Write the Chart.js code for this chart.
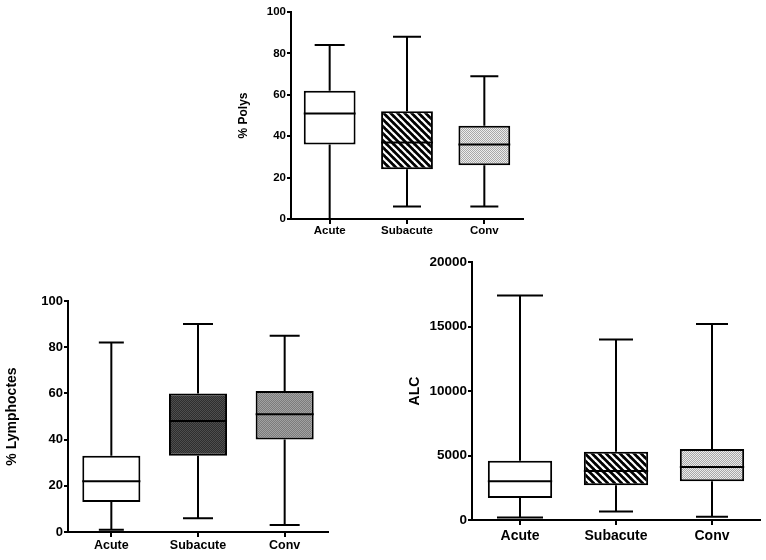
<!DOCTYPE html>
<html>
<head>
<meta charset="utf-8">
<script src="https://cdn.jsdelivr.net/npm/chart.js@4.4.1/dist/chart.umd.min.js"></script>
<style>
  html, body { margin: 0; padding: 0; background: #fff; }
  body { width: 766px; height: 560px; position: relative; overflow: hidden; }
  canvas { position: absolute; }
</style>
</head>
<body>
<canvas id="c1" width="300" height="250" style="left:232px;top:0px;width:300px;height:250px"></canvas>
<canvas id="c2" width="340" height="275" style="left:0px;top:285px;width:340px;height:275px"></canvas>
<canvas id="c3" width="381" height="310" style="left:385px;top:250px;width:381px;height:310px"></canvas>
<script>
// ---------- DATA ----------
const categories = ['Acute', 'Subacute', 'Conv'];

const polysMin = [0, 6, 6];
const polysQ1  = [36, 24, 26];
const polysMed = [51, 37, 36];
const polysQ3  = [62, 52, 45];
const polysMax = [84, 88, 69];
const polysTicks = [0, 20, 40, 60, 80, 100];

const lymphMin = [1, 6, 3];
const lymphQ1  = [13, 33, 40];
const lymphMed = [22, 48, 51];
const lymphQ3  = [33, 60, 61];
const lymphMax = [82, 90, 85];
const lymphTicks = [0, 20, 40, 60, 80, 100];

const alcMin = [200, 650, 250];
const alcQ1  = [1700, 2700, 3000];
const alcMed = [3000, 3800, 4100];
const alcQ3  = [4600, 5300, 5500];
const alcMax = [17400, 14000, 15200];
const alcTicks = [0, 5000, 10000, 15000, 20000];

// ---------- PATTERNS ----------
function tile(w, h, draw) {
  const c = document.createElement('canvas');
  c.width = w; c.height = h;
  const x = c.getContext('2d');
  draw(x);
  return x.createPattern(c, 'repeat');
}
function stripes() {
  return tile(7, 7, x => {
    x.fillStyle = '#000'; x.fillRect(0, 0, 7, 7);
    x.strokeStyle = '#fff'; x.lineWidth = 2.2;
    [-7, 0, 7].forEach(o => { x.beginPath(); x.moveTo(o - 1, -1); x.lineTo(o + 8, 8); x.stroke(); });
  });
}
function stipple(a, b) {
  return tile(2, 2, x => {
    x.fillStyle = b; x.fillRect(0, 0, 2, 2);
    x.fillStyle = a; x.fillRect(0, 0, 1, 1); x.fillRect(1, 1, 1, 1);
  });
}
const white = '#ffffff';

// ---------- BOX PLOT PLUGIN ----------
const whiskerPlugin = {
  id: 'whiskers',
  afterDatasetsDraw(chart, args, opts) {
    const ctx = chart.ctx;
    const xs = chart.scales.x, ys = chart.scales.y;
    ctx.save();
    ctx.strokeStyle = '#000';
    ctx.lineWidth = 2;
    ctx.lineCap = 'butt';
    const meta = chart.getDatasetMeta(0);
    opts.min.forEach((mn, i) => {
      const cx = xs.getPixelForValue(i);
      const bar = meta.data[i];
      const half = bar.width / 2;
      const cap = opts.caps[i] / 2;
      const pMin = ys.getPixelForValue(mn), pMax = ys.getPixelForValue(opts.max[i]);
      const pQ1 = ys.getPixelForValue(opts.q1[i]), pQ3 = ys.getPixelForValue(opts.q3[i]);
      const pMed = ys.getPixelForValue(opts.med[i]);
      ctx.beginPath();
      ctx.moveTo(cx, pQ3); ctx.lineTo(cx, pMax);
      ctx.moveTo(cx - cap, pMax); ctx.lineTo(cx + cap, pMax);
      ctx.moveTo(cx, pQ1); ctx.lineTo(cx, pMin);
      ctx.moveTo(cx - cap, pMin); ctx.lineTo(cx + cap, pMin);
      ctx.moveTo(cx - half, pMed); ctx.lineTo(cx + half, pMed);
      ctx.stroke();
    });
    ctx.restore();
  }
};

const FONT = "'Liberation Sans', Arial, Helvetica, sans-serif";

function makeChart(id, cfg) {
  const ctx = document.getElementById(id).getContext('2d');
  return new Chart(ctx, {
    type: 'bar',
    data: {
      labels: categories,
      datasets: [{
        data: cfg.q1.map((v, i) => [v, cfg.q3[i]]),
        backgroundColor: cfg.fills,
        borderColor: '#000',
        borderWidth: 2,
        borderSkipped: false,
        barPercentage: 0.67,
        categoryPercentage: 1
      }]
    },
    options: {
      responsive: false,
      animation: false,
      devicePixelRatio: 1,
      layout: { padding: cfg.padding },
      plugins: {
        legend: { display: false },
        tooltip: { enabled: false },
        whiskers: { min: cfg.min, q1: cfg.q1, med: cfg.med, q3: cfg.q3, max: cfg.max, caps: cfg.caps }
      },
      scales: {
        x: {
          offset: true,
          grid: { display: true, drawOnChartArea: false, drawTicks: true, tickLength: 5, color: '#000', lineWidth: 2, offset: false },
          border: { display: true, color: '#000', width: 2 },
          ticks: { color: '#000', font: { family: FONT, weight: 'bold', size: cfg.xFont }, padding: cfg.xPad, maxRotation: 0 },
          afterFit(s) { s.height = cfg.xHeight; }
        },
        y: {
          min: cfg.ticks[0],
          max: cfg.ticks[cfg.ticks.length - 1],
          afterBuildTicks(s) { s.ticks = cfg.ticks.map(v => ({ value: v })); },
          grid: { display: true, drawOnChartArea: false, drawTicks: true, tickLength: 4, color: '#000', lineWidth: 2 },
          border: { display: true, color: '#000', width: 2 },
          ticks: { color: '#000', font: { family: FONT, weight: 'bold', size: cfg.yFont }, padding: 1, callback: v => String(v) },
          title: { display: true, text: cfg.title, color: '#000', font: { family: FONT, weight: 'bold', size: cfg.titleFont }, padding: 0 },
          afterFit(s) { s.width = cfg.yWidth; }
        }
      }
    },
    plugins: [whiskerPlugin]
  });
}

makeChart('c1', {
  min: polysMin, q1: polysQ1, med: polysMed, q3: polysQ3, max: polysMax, ticks: polysTicks,
  title: '% Polys', fills: [white, stripes(), stipple('#a8a8a8', '#ececec')],
  caps: [30, 28, 28],
  padding: { left: 4, top: 12, right: 9, bottom: 0 },
  yWidth: 55, xHeight: 31, xFont: 11.5, yFont: 11.5, titleFont: 12, xPad: 0
});

makeChart('c2', {
  min: lymphMin, q1: lymphQ1, med: lymphMed, q3: lymphQ3, max: lymphMax, ticks: lymphTicks,
  title: '% Lymphoctes', fills: [white, stipple('#2e2e2e', '#4e4e4e'), stipple('#7c7c7c', '#a2a2a2')],
  caps: [25, 30, 30],
  padding: { left: 4, top: 16, right: 12, bottom: 0 },
  yWidth: 64, xHeight: 28, xFont: 12.5, yFont: 13, titleFont: 14, xPad: 1
});

makeChart('c3', {
  min: alcMin, q1: alcQ1, med: alcMed, q3: alcQ3, max: alcMax, ticks: alcTicks,
  title: 'ALC', fills: [white, stripes(), stipple('#a8a8a8', '#ececec')],
  caps: [46, 34, 32],
  padding: { left: 22, top: 12, right: 6, bottom: 0 },
  yWidth: 65, xHeight: 40, xFont: 14, yFont: 13.5, titleFont: 14, xPad: 3
});
</script>
</body>
</html>
